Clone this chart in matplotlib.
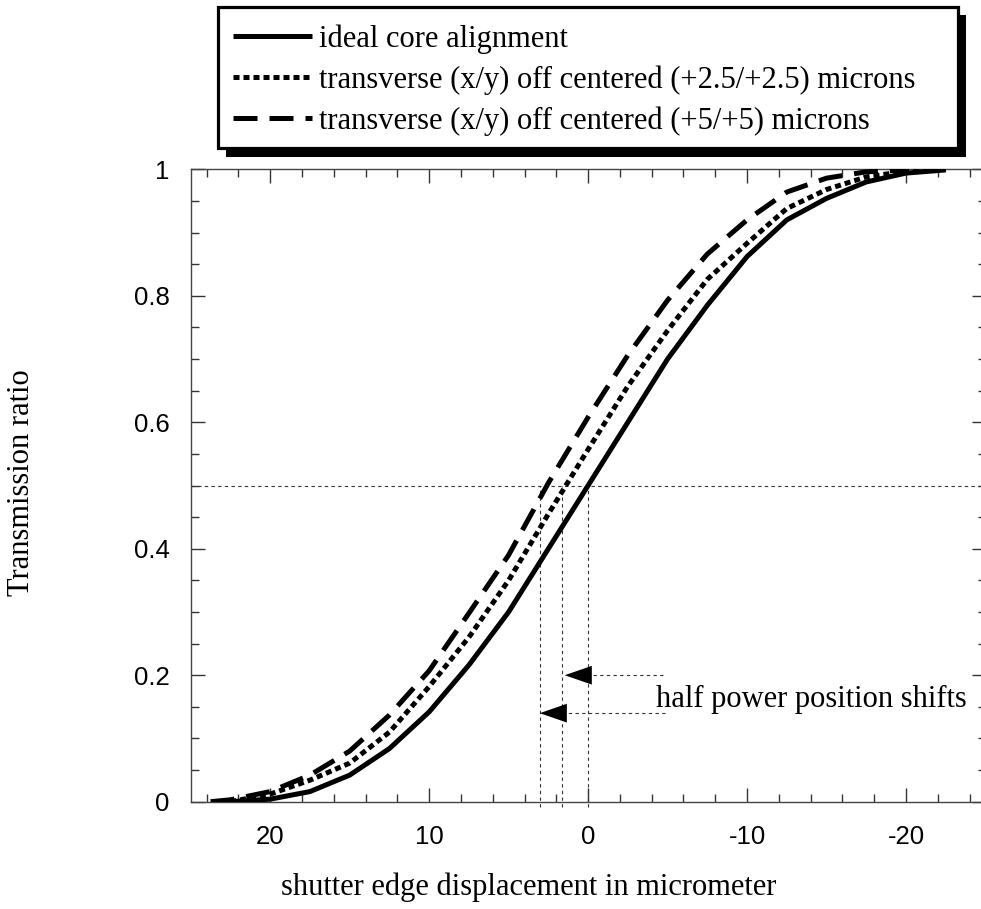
import matplotlib
matplotlib.use('Agg')
import matplotlib.pyplot as plt
from matplotlib.patches import Rectangle
from matplotlib.ticker import MultipleLocator, FuncFormatter

# values
x_ideal = [22.5, 20, 17.5, 15, 12.5, 10, 7.5, 5, 2.5, 0,
           -2.5, -5, -7.5, -10, -12.5, -15, -17.5, -20, -22.5]
t_ideal = [0.0, 0.004, 0.016, 0.042, 0.084, 0.142, 0.216, 0.30, 0.40, 0.50,
           0.60, 0.70, 0.785, 0.862, 0.92, 0.954, 0.98, 0.994, 0.999]

x_off25 = [22.5, 20, 17.5, 15, 12.5, 10, 7.5, 5, 2.5, 0,
           -2.5, -5, -7.5, -10, -12.5, -15, -17.5, -20, -22.5]
t_off25 = [0.0, 0.012, 0.034, 0.061, 0.11, 0.182, 0.26, 0.35, 0.455, 0.557,
           0.657, 0.745, 0.826, 0.883, 0.938, 0.968, 0.988, 0.997, 1.0]

x_off5 = [23.75, 22.5, 20, 17.5, 15, 12.5, 10, 7.5, 5, 2.5, 0,
          -2.5, -5, -7.5, -10, -12.5, -15, -17.5, -20]
t_off5 = [0.0, 0.003, 0.016, 0.042, 0.08, 0.137, 0.207, 0.298, 0.39, 0.504, 0.608,
          0.706, 0.793, 0.866, 0.92, 0.964, 0.986, 0.996, 0.999]

labels = ['ideal core alignment',
          'transverse (x/y) off centered (+2.5/+2.5) microns',
          'transverse (x/y) off centered (+5/+5) microns']

half_power_x = [3.04, 1.67, 0.0]
arrow_y = [0.2, 0.14]
arrow_tip = [1.47, 3.04]
arrow_tail = [-4.7, -4.85]
note = 'half power position shifts'

plt.rcParams['font.family'] = 'Liberation Sans'
plt.rcParams['axes.unicode_minus'] = False
SERIF = 'Liberation Serif'

W, H = 981, 909
def fx(px):
    return px / W
def fy(py):
    return 1 - py / H

fig = plt.figure(figsize=(W / 100, H / 100), dpi=100)
ax = fig.add_axes([fx(190.7), fy(801.7), fx(985.5) - fx(190.7), fy(169.3) - fy(801.7)])

lw = 3.6
l1, = ax.plot(x_ideal, t_ideal, color='black', lw=lw, solid_capstyle='butt', zorder=3)
l2, = ax.plot(x_off25, t_off25, color='black', lw=lw, linestyle=(0, (1.2, 0.8)), zorder=3)
l3, = ax.plot(x_off5, t_off5, color='black', lw=lw, linestyle=(0, (4.8, 2.4)), zorder=3)

# half power guide lines
ref = dict(color='#333333', lw=0.8, linestyle=(0, (3, 3)))
ax.axhline(0.5, **ref)
ax.vlines(half_power_x, -0.008, 0.5, clip_on=False, **ref)

# dashed shafts, solid filled heads
ax.hlines(arrow_y, arrow_tail, arrow_tip, **ref)
for y, tip, tail in zip(arrow_y, arrow_tip, arrow_tail):
    ax.annotate('', xy=(tip, y), xytext=(tail, y),
                arrowprops=dict(arrowstyle='-|>,head_length=1.3,head_width=0.45',
                                mutation_scale=15, facecolor='black',
                                edgecolor='none', lw=0, shrinkA=0, shrinkB=0))
ax.text(-4.3, 0.15, note, family=SERIF, fontsize=22, ha='left', va='baseline')

ax.set_xlim(25, -25)
ax.set_ylim(0, 1)
ax.xaxis.set_major_locator(MultipleLocator(10))
ax.xaxis.set_minor_locator(MultipleLocator(2))
ax.yaxis.set_major_locator(MultipleLocator(0.2))
ax.yaxis.set_minor_locator(MultipleLocator(0.05))
fmt = FuncFormatter(lambda v, p: f'{round(v, 3) + 0:g}')
ax.xaxis.set_major_formatter(fmt)
ax.yaxis.set_major_formatter(fmt)

for s in ax.spines.values():
    s.set_color('#444444')
    s.set_linewidth(1.0)
ax.tick_params(which='both', direction='in', top=True, right=True,
               color='#333333', width=1.0)
ax.tick_params(which='major', length=10)
ax.tick_params(which='minor', length=5.5)
ax.tick_params(axis='x', pad=17, labelsize=18.5)
ax.tick_params(axis='y', pad=15, labelsize=18.5)

fig.text(fx(529), fy(887), 'shutter edge displacement in micrometer',
         family=SERIF, fontsize=22, ha='center', va='center')
fig.text(fx(21.6), fy(482.5), 'Transmission ratio', family=SERIF,
         fontsize=22, rotation=90, ha='center', va='center')

# legend box with a hard drop shadow
fig.patches.append(Rectangle((fx(226), fy(157)), fx(966) - fx(226), fy(15) - fy(157),
                             transform=fig.transFigure, facecolor='black',
                             edgecolor='none', zorder=1))
fig.patches.append(Rectangle((fx(218), fy(148)), fx(958) - fx(218), fy(7) - fy(148),
                             transform=fig.transFigure, facecolor='white',
                             edgecolor='black', lw=2.3, zorder=2))
leg = fig.legend([l1, l2, l3], labels, loc='upper left',
                 bbox_to_anchor=(fx(233), fy(24)), frameon=False,
                 prop=dict(family=SERIF, size=22), borderpad=0, borderaxespad=0,
                 handlelength=2.6, handletextpad=0.2, labelspacing=0.38)
leg.set_zorder(3)

fig.savefig('out.png', dpi=100)
